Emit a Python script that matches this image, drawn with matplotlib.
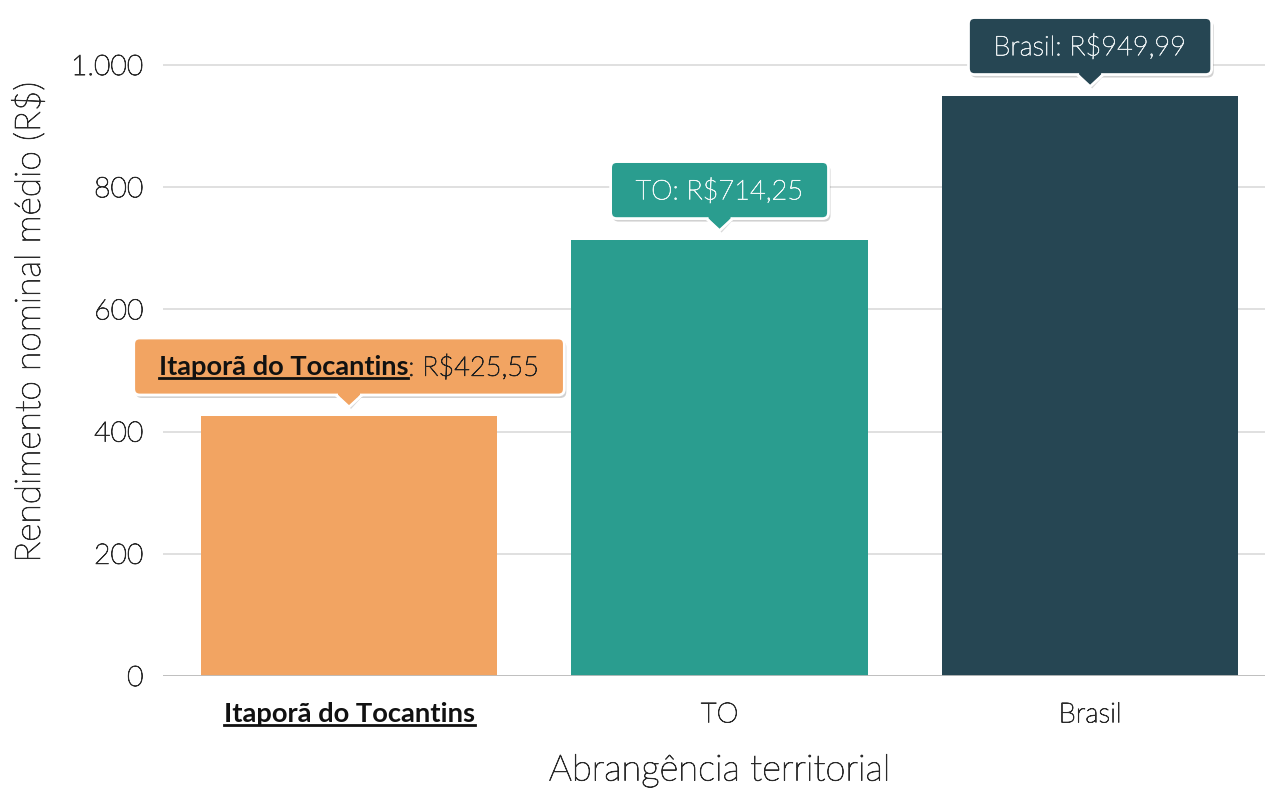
import matplotlib
matplotlib.use('Agg')
import matplotlib.pyplot as plt
import matplotlib.patheffects as pe
from matplotlib.patches import FancyBboxPatch, Polygon
from matplotlib.transforms import IdentityTransform
from matplotlib.lines import Line2D

categories = ['Itaporã do Tocantins', 'TO', 'Brasil']
values = [425.55, 714.25, 949.99]
value_labels = ['R$425,55', 'R$714,25', 'R$949,99']
colors = ['#F2A462', '#2A9D8F', '#264653']
text_colors = ['#222222', '#eef7f6', '#e6ecee']
y_ticks = [0, 200, 400, 600, 800, 1000]
y_tick_labels = ['0', '200', '400', '600', '800', '1.000']
x_label = 'Abrangência territorial'
y_label = 'Rendimento nominal médio (R$)'

FONT = 'Lato'
WT = 'light'
TXT = '#2a2a2a'


def thick(color, w=0.6):
    return [pe.withStroke(linewidth=w, foreground=color)]


W, H = 1265, 789
fig = plt.figure(figsize=(W / 100, H / 100), dpi=100)
ax = fig.add_axes([163 / W, (H - 676) / H, (1265 - 163) / W, 676 / H])

x = list(range(len(categories)))
ax.bar(x, values, width=0.8, color=colors, zorder=2)
ax.set_xlim(-0.502, 2.472)
ax.set_ylim(0, 676 / 0.611)

for s in ax.spines.values():
    s.set_visible(False)
ax.axhline(0, color='#bdbdbd', lw=2, zorder=3)
ax.set_yticks(y_ticks)
ax.set_yticklabels(y_tick_labels, fontfamily=FONT, fontweight=WT, fontsize=20.4, color=TXT)
for t in ax.get_yticklabels():
    t.set_path_effects(thick(TXT))
ax.yaxis.grid(True, color='#dddddd', lw=1.3, zorder=0)
ax.tick_params(axis='y', length=0, pad=14)
ax.set_xticks(x)
ax.set_xticklabels(categories, fontfamily=FONT, fontweight=WT, fontsize=20, color=TXT)
for t in ax.get_xticklabels()[1:]:
    t.set_path_effects(thick(TXT))
ax.get_xticklabels()[0].set_fontweight('bold')
ax.get_xticklabels()[0].set_fontsize(19.7)
ax.get_xticklabels()[0].set_color('#111111')
ax.tick_params(axis='x', length=0, pad=19)
xl = ax.set_xlabel(x_label, fontfamily=FONT, fontweight=WT, fontsize=26.2, color=TXT, labelpad=20)
yl = ax.set_ylabel(y_label, fontfamily=FONT, fontweight=WT, fontsize=25.5, color=TXT, labelpad=18)
xl.set_path_effects(thick(TXT))
yl.set_path_effects(thick(TXT))
ax.xaxis.set_label_coords(0.505, -0.1, transform=ax.transAxes)
ax.xaxis.label.set_va('center')
ax.yaxis.label.set_y(0.523)

fig.canvas.draw()
renderer = fig.canvas.get_renderer()
ID = IdentityTransform()

# place x label center at y=771 px from top
xl.set_transform(ID)
xl.set_position(((719.5), H - 771))
fig.canvas.draw()

# underline first category tick label
tl = ax.get_xticklabels()[0]
bb = tl.get_window_extent(renderer)
fig.add_artist(Line2D([bb.x0, bb.x1], [bb.y0 + 1, bb.y0 + 1], transform=ID, color='#111111', lw=2))

fs_tip = 19.6
for i, v in enumerate(values):
    px, py = ax.transData.transform((i, v))
    tip_y = py + 10
    box_bottom = py + 21
    box_h = 57
    cy = box_bottom + box_h / 2 - 1
    if i == 0:
        t1 = fig.text(0, 0, categories[0], transform=ID, fontfamily=FONT, fontweight='bold',
                      fontsize=fs_tip, color='#111111', va='center', ha='left', zorder=10)
        t2 = fig.text(0, 0, ': ' + value_labels[0], transform=ID, fontfamily=FONT, fontweight=WT,
                      fontsize=fs_tip, color=text_colors[0], va='center', ha='left', zorder=10,
                      path_effects=thick(text_colors[0]))
        w1 = t1.get_window_extent(renderer).width
        w2 = t2.get_window_extent(renderer).width
        tw = w1 + w2
        x0 = px - tw / 2
        t1.set_position((x0, cy))
        t2.set_position((x0 + w1, cy))
        b1 = t1.get_window_extent(renderer)
        fig.add_artist(Line2D([b1.x0, b1.x1], [b1.y0 + 1, b1.y0 + 1], transform=ID,
                              color='#111111', lw=2, zorder=11))
    else:
        name = categories[i]
        t = fig.text(px, cy, f'{name}: {value_labels[i]}', transform=ID, fontfamily=FONT,
                     fontweight=WT, fontsize=fs_tip, color=text_colors[i],
                     va='center', ha='center', zorder=10, path_effects=thick(text_colors[i], 0.5))
        tw = t.get_window_extent(renderer).width
    padx = 25
    bw = tw + 2 * padx
    bx = px - bw / 2
    sh = FancyBboxPatch((bx + 2, box_bottom - 3), bw, box_h, boxstyle='round,pad=0,rounding_size=6',
                        transform=ID, fc='#000000', ec='none', alpha=0.18, zorder=7)
    fig.add_artist(sh)
    box = FancyBboxPatch((bx, box_bottom), bw, box_h, boxstyle='round,pad=0,rounding_size=6',
                         transform=ID, fc=colors[i], ec='white', lw=2, zorder=8)
    fig.add_artist(box)
    hw = 11
    tri_sh = Polygon([[px - hw + 2, box_bottom - 2], [px + 2, tip_y - 3], [px + hw + 2, box_bottom - 2]],
                     closed=True, transform=ID, fc='#000000', ec='none', alpha=0.15, zorder=7)
    fig.add_artist(tri_sh)
    tri = Polygon([[px - hw, box_bottom + 2], [px - hw, box_bottom], [px, tip_y],
                   [px + hw, box_bottom], [px + hw, box_bottom + 2]],
                  closed=True, transform=ID, fc=colors[i], ec='none', zorder=9)
    fig.add_artist(tri)
    fig.add_artist(Line2D([px - hw - 1, px, px + hw + 1], [box_bottom - 1, tip_y - 1, box_bottom - 1],
                          transform=ID, color='white', lw=2, zorder=9.5))

fig.savefig('out.png', dpi=100)
